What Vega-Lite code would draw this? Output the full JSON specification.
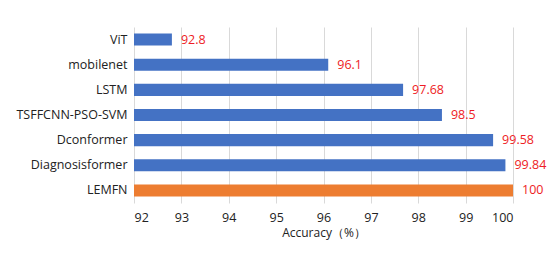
{
  "$schema": "https://vega.github.io/schema/vega-lite/v6.json",
  "width": 379,
  "height": 176,
  "autosize": "none",
  "padding": {"left": 134, "top": 27, "right": 37, "bottom": 52},
  "background": "white",
  "data": {"values": [
    {"model": "ViT", "acc": 92.8, "group": "other"},
    {"model": "mobilenet", "acc": 96.1, "group": "other"},
    {"model": "LSTM", "acc": 97.68, "group": "other"},
    {"model": "TSFFCNN-PSO-SVM", "acc": 98.5, "group": "other"},
    {"model": "Dconformer", "acc": 99.58, "group": "other"},
    {"model": "Diagnosisformer", "acc": 99.84, "group": "other"},
    {"model": "LEMFN", "acc": 100, "group": "ours"}
  ]},
  "encoding": {
    "y": {"field": "model", "type": "nominal", "sort": null,
      "scale": {"paddingInner": 0.52, "paddingOuter": 0.26},
      "axis": {"title": null, "ticks": false, "domain": false, "labelPadding": 7, "labelFontSize": 12.5, "labelColor": "#222", "labelFont": "Open Sans"}},
    "x": {"field": "acc", "type": "quantitative",
      "scale": {"domain": [92, 100], "zero": false},
      "axis": {"values": [92, 93, 94, 95, 96, 97, 98, 99, 100], "title": "Accuracy（%）", "titleFontWeight": "normal", "titleFontSize": 12, "titleColor": "#222", "titleFont": "Open Sans", "titlePadding": 4, "ticks": false, "domain": false, "grid": true, "gridColor": "#d9d9d9", "labelPadding": 8, "labelFontSize": 12.5, "labelColor": "#222", "labelFont": "Open Sans"}}
  },
  "layer": [
    {"mark": {"type": "bar"},
     "encoding": {"x2": {"datum": 92}, "color": {"field": "group", "type": "nominal", "scale": {"domain": ["other", "ours"], "range": ["#4472C4", "#ED7D31"]}, "legend": null}}},
    {"mark": {"type": "text", "align": "left", "dx": 9, "color": "#EE1C25", "fontSize": 12.5, "font": "Open Sans"},
     "encoding": {"text": {"field": "acc", "type": "quantitative"}}}
  ],
  "config": {"view": {"stroke": null}}
}
